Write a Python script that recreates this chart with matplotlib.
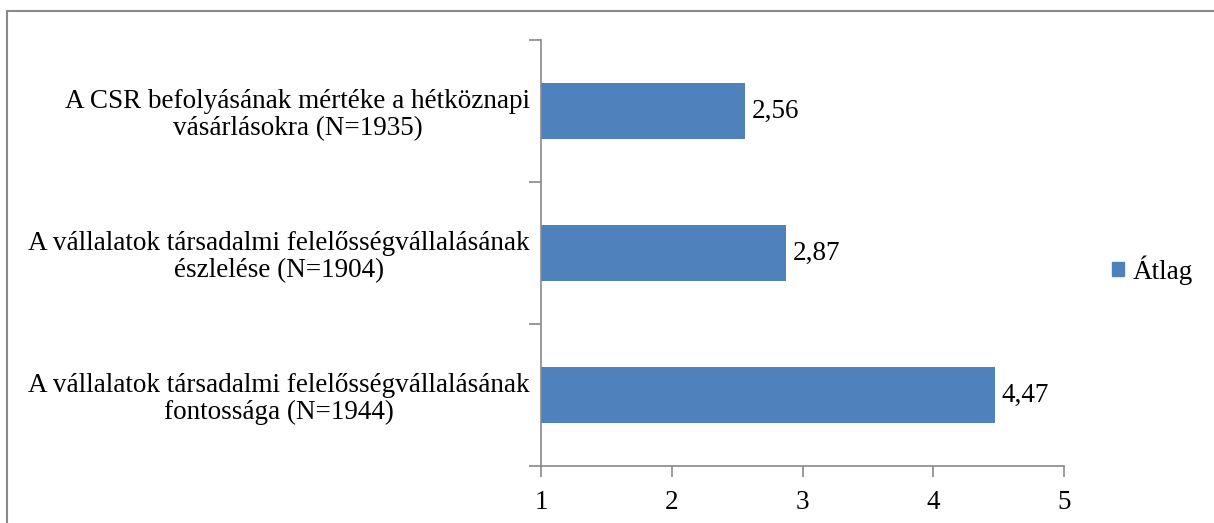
import matplotlib

matplotlib.use("Agg")
import matplotlib.pyplot as plt
from matplotlib.patches import Patch, Rectangle

categories = [
    "A vállalatok társadalmi felelősségvállalásának\nfontossága (N=1944)",
    "A vállalatok társadalmi felelősségvállalásának\nészlelése (N=1904)",
    "A CSR befolyásának mértéke a hétköznapi\nvásárlásokra (N=1935)",
]
values = [4.47, 2.87, 2.56]
x_ticks = [1, 2, 3, 4, 5]
series_name = "Átlag"

BAR_COLOR = "#4F81BD"
AXIS_COLOR = "#898989"
FS = 19.5

plt.rcParams["font.family"] = ["Liberation Serif", "DejaVu Serif"]

W, H = 1214, 523
fig = plt.figure(figsize=(W / 100, H / 100), dpi=100)
ax = fig.add_axes([541 / W, 1 - 466 / H, (1064 - 541) / W, (466 - 40) / H])

# outer chart border (runs off the right and bottom edge like the reference)
fig.patches.append(
    Rectangle((7 / W, -0.05), 1.2, 1.05 - 11 / H, transform=fig.transFigure,
              fill=False, edgecolor=AXIS_COLOR, linewidth=1.5)
)

pos = list(range(len(categories)))
widths = [v - x_ticks[0] for v in values]
ax.barh(pos, widths, left=x_ticks[0], height=0.4, color=BAR_COLOR, zorder=2)

for p, v in zip(pos, values):
    ax.text(v + 0.055, p, f"{v:.2f}".replace(".", ","), va="center", ha="left", fontsize=FS)

ax.set_xlim(x_ticks[0], x_ticks[-1])
ax.set_ylim(-0.5, len(categories) - 0.5)
ax.set_xticks(x_ticks)
ax.set_xticklabels([str(t) for t in x_ticks], fontsize=FS)
ax.set_yticks(pos)
ax.set_yticklabels(categories, fontsize=FS)
for lbl in ax.get_yticklabels():
    lbl.set_multialignment("center")
    lbl.set_linespacing(1.1)
ax.set_yticks([p - 0.5 for p in pos] + [pos[-1] + 0.5], minor=True)
ax.tick_params(axis="y", which="major", length=0, pad=8)
ax.tick_params(axis="y", which="minor", length=9, width=1.2, color=AXIS_COLOR, direction="out")
ax.tick_params(axis="x", length=8, width=1.2, color=AXIS_COLOR, direction="out", pad=9)

for side in ("top", "right"):
    ax.spines[side].set_visible(False)
for side in ("left", "bottom"):
    ax.spines[side].set_color(AXIS_COLOR)
    ax.spines[side].set_linewidth(1.2)

ax.legend(handles=[Patch(color=BAR_COLOR, label=series_name)], loc="center left",
          bbox_to_anchor=(1.045, 0.46), frameon=False, fontsize=FS,
          handlelength=0.45, handleheight=0.45, handletextpad=0.3)

fig.savefig("out.png", dpi=100)
